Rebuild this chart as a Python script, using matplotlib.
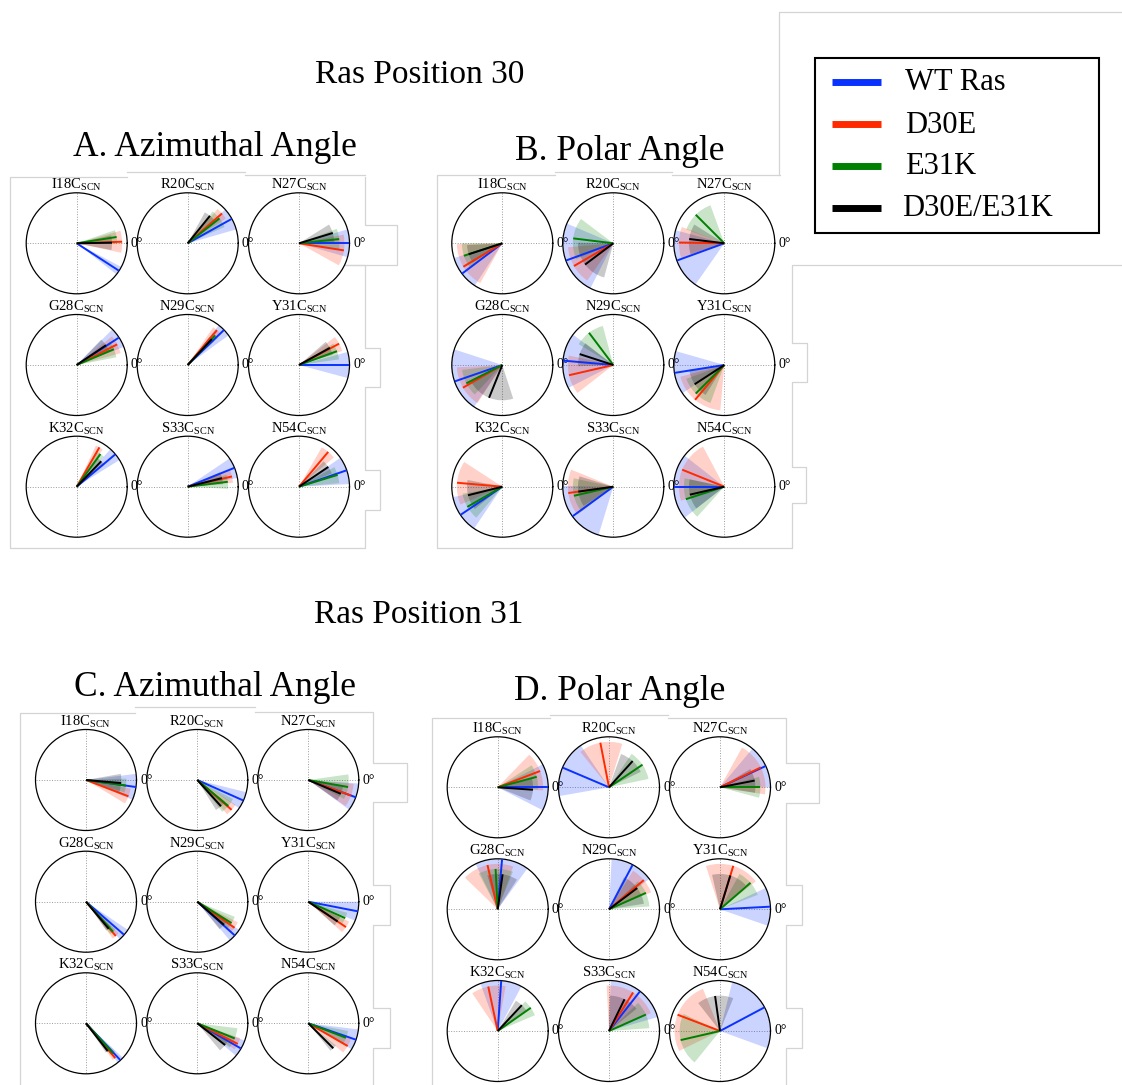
import numpy as np
import matplotlib
matplotlib.use("Agg")
import matplotlib.pyplot as plt
from matplotlib.lines import Line2D
from matplotlib.patches import Rectangle

plt.rcParams["font.family"] = ["Liberation Serif", "DejaVu Serif"]

# ---- data ------------------------------------------------------------
residues = ["I18C", "R20C", "N27C", "G28C", "N29C", "Y31C", "K32C", "S33C", "N54C"]
series = ["WT Ras", "D30E", "E31K", "D30E/E31K"]
colors = ["#0a32ff", "#ff2a00", "#008000", "#000000"]
lengths = [1.0, 0.9, 0.8, 0.7]

# mean angle (deg) per residue, columns follow `series`
pos30_azimuth = [[-33, 2, 9, 1], [29, 41, 38, 51], [0, -9, 6, 17],
                 [33, 27, 23, 34], [44, 50, 47, 47], [0, 28, 20, 29],
                 [40, 60, 54, 46], [22, 13, 7, 14], [19, 50, 17, 34]]
pos30_azimuth_sd = [[5, 14, 10, 12], [13, 8, 14, 10], [16, 20, 15, 15],
                    [12, 12, 12, 12], [8, 6, 5, 5], [15, 10, 12, 12],
                    [8, 5, 6, 8], [12, 8, 10, 10], [16, 10, 12, 12]]

pos30_polar = [[217, 211, 198, 198], [200, 210, 173, 217], [200, 179, 135, 173],
               [199, 210, 207, 248], [175, 193, 127, 162], [189, 230, 225, 213],
               [214, 175, 210, 194], [216, 188, 193, 188], [180, 158, 198, 193]]
pos30_polar_sd = [[20, 30, 18, 15], [43, 25, 30, 38], [35, 20, 25, 25],
                  [37, 27, 20, 40], [32, 25, 22, 20], [25, 35, 25, 25],
                  [22, 28, 20, 25], [37, 30, 25, 25], [38, 40, 30, 25]]

pos31_azimuth = [[-8, -21, -8, -5], [-24, -41, -40, -48], [-20, -20, -10, -23],
                 [-41, -49, -48, -50], [-42, -35, -32, -41], [-11, -34, -24, -34],
                 [-47, -50, -48, -52], [-30, -27, -22, -38], [-19, -30, -21, -45]]
pos31_azimuth_sd = [[15, 10, 10, 15], [10, 8, 12, 10], [16, 15, 18, 12],
                    [7, 5, 5, 5], [8, 8, 10, 10], [11, 8, 8, 8],
                    [4, 4, 4, 4], [10, 8, 15, 12], [12, 10, 10, 6]]

pos31_polar = [[0, 21, 15, -4], [157, 101, 34, 48], [25, 26, 0, 11],
               [85, 103, 93, 82], [62, 40, 24, 37], [3, 73, 41, 73],
               [86, 102, 35, 47], [52, 58, 24, 64], [28, 159, 193, 98]]
pos31_polar_sd = [[27, 25, 18, 18], [33, 28, 22, 22], [25, 35, 15, 20],
                  [31, 33, 25, 25], [25, 18, 20, 28], [22, 35, 20, 30],
                  [24, 22, 12, 12], [36, 35, 20, 25], [48, 47, 38, 30]]

# ---- layout (pixels) -------------------------------------------------
W, H = 1122, 1085
fig = plt.figure(figsize=(W / 100, H / 100), dpi=100)
fig.patch.set_facecolor("white")


def fx(x):
    return x / W


def fy(y):
    return 1 - y / H


R = 50.5
panels = [
    (pos30_azimuth, pos30_azimuth_sd, [76.7, 187.7, 299.0], [243.3, 365.0, 486.7]),
    (pos30_polar, pos30_polar_sd, [502.3, 613.3, 724.3], [243.3, 365.0, 486.7]),
    (pos31_azimuth, pos31_azimuth_sd, [86.0, 197.3, 308.3], [780.0, 901.7, 1023.3]),
    (pos31_polar, pos31_polar_sd, [497.7, 609.0, 720.0], [787.3, 909.3, 1031.0]),
]

# faint page edges behind the panels
edges = [
    [(779, 175), (779, 12), (1122, 12)],
    [(1122, 265), (792, 265), (792, 343), (807, 343), (807, 382), (792, 382),
     (792, 467), (806, 467), (806, 503), (792, 503), (792, 548), (437, 548), (437, 175),
     (555, 175)],
    [(555, 172), (672, 172)], [(672, 175), (780, 175)],
    [(127, 177), (10, 177), (10, 548), (365, 548), (365, 510), (380, 510), (380, 470),
     (365, 470), (365, 387), (380, 387), (380, 348), (365, 348), (365, 265),
     (345, 265), (397, 265), (397, 225), (365, 225), (365, 177)],
    [(127, 172), (245, 172)], [(245, 175), (365, 175)],
    [(135, 713), (20, 713), (20, 1085)], [(135, 707), (255, 707)],
    [(255, 712), (373, 712), (373, 763), (407, 763), (407, 802), (373, 802),
     (373, 885), (390, 885), (390, 925), (373, 925), (373, 1008), (390, 1008),
     (390, 1048), (373, 1048), (373, 1085)],
    [(550, 718), (432, 718), (432, 1085)], [(550, 715), (668, 715)],
    [(668, 718), (786, 718), (786, 763), (819, 763), (819, 803), (786, 803),
     (786, 885), (802, 885), (802, 925), (786, 925), (786, 1008), (802, 1008),
     (802, 1048), (786, 1048), (786, 1085)],
]
for pts in edges:
    xs, ys = zip(*pts)
    fig.add_artist(Line2D([fx(x) for x in xs], [fy(y) for y in ys],
                          color="#d4d4d4", lw=0.9, zorder=0))

# ---- rose plots ------------------------------------------------------
for theta, sd, cxs, cys in panels:
    for k, res in enumerate(residues):
        cx, cy = cxs[k % 3], cys[k // 3]
        ax = fig.add_axes([fx(cx - R), fy(cy + R), 2 * R / W, 2 * R / H],
                          projection="polar")
        ax.set_facecolor("none")
        th = np.radians(theta[k])
        wd = np.radians(2 * np.array(sd[k]))
        for j in range(4):
            ax.bar(th[j], lengths[j], width=wd[j], bottom=0, color=colors[j],
                   alpha=0.21, linewidth=0, zorder=2)
        for j in range(4):
            ax.plot([th[j], th[j]], [0, lengths[j]], color=colors[j], lw=1.4,
                    solid_capstyle="butt", zorder=3)
        ax.set_ylim(0, 1)
        ax.set_yticks([])
        ax.set_xticks(np.radians([0, 90, 180, 270]))
        ax.set_xticklabels(["0°", "", "", ""])
        ax.tick_params(axis="x", pad=-3.5, labelsize=10)
        ax.grid(True, ls=":", color="#9a9a9a", lw=0.7)
        ax.spines["polar"].set_linewidth(0.9)
        ax.set_title(res + r"$_{\mathregular{SCN}}$", fontsize=10.5, pad=3)

# ---- headings --------------------------------------------------------
fig.text(fx(420), fy(75), "Ras Position 30", fontsize=24, ha="center", va="center")
fig.text(fx(215), fy(147), "A. Azimuthal Angle", fontsize=25.5, ha="center", va="center")
fig.text(fx(620), fy(151), "B. Polar Angle", fontsize=25.5, ha="center", va="center")
fig.text(fx(419), fy(615), "Ras Position 31", fontsize=24, ha="center", va="center")
fig.text(fx(215), fy(687), "C. Azimuthal Angle", fontsize=25.5, ha="center", va="center")
fig.text(fx(620), fy(691), "D. Polar Angle", fontsize=25.5, ha="center", va="center")

# ---- legend ----------------------------------------------------------
fig.add_artist(Rectangle((fx(815), fy(233)), fx(1099) - fx(815), fy(58) - fy(233),
                         transform=fig.transFigure, facecolor="white",
                         edgecolor="black", lw=1.5))
for j, name in enumerate(series):
    yy = 82 + 42 * j
    fig.add_artist(Line2D([fx(832), fx(881)], [fy(yy), fy(yy)], color=colors[j],
                          lw=5, solid_capstyle="butt"))
    fig.text(fx(905 if j < 3 else 902), fy(yy + 1), name, fontsize=22,
             ha="left", va="center")

fig.savefig("out.png", dpi=100, facecolor="white")
